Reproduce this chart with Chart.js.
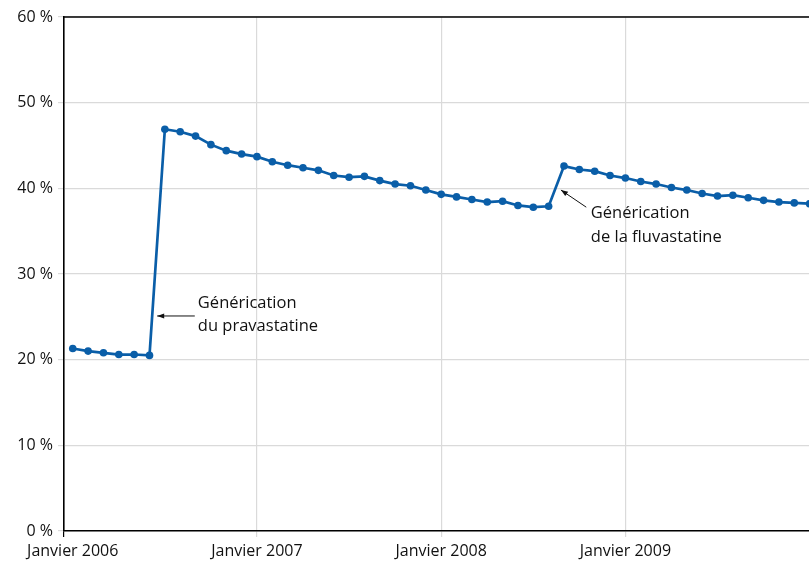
<!DOCTYPE html>
<html><head><meta charset="utf-8">
<script src="https://cdn.jsdelivr.net/npm/chart.js@4/dist/chart.umd.min.js"></script>
<style>html,body{margin:0;padding:0;background:#fff;overflow:hidden}</style>
</head><body><canvas id="c" width="809" height="565" style="display:block;width:809px;height:565px"></canvas>
<script>
// Month index (0 = Janvier 2006)
const monthIndex = [0,1,2,3,4,5,6,7,8,9,10,11,12,13,14,15,16,17,18,19,20,21,22,23,24,25,26,27,28,29,30,31,32,33,34,35,36,37,38,39,40,41,42,43,44,45,46,47,48];
// Share (%)
const shares = [21.3,21.0,20.8,20.6,20.6,20.5,46.9,46.6,46.1,45.1,44.4,44.0,43.7,43.1,42.7,42.4,42.1,41.5,41.3,41.4,40.9,40.5,40.3,39.8,39.3,39.0,38.7,38.4,38.5,38.0,37.8,37.9,42.6,42.2,42.0,41.5,41.2,40.8,40.5,40.1,39.8,39.4,39.1,39.2,38.9,38.6,38.4,38.3,38.2];
const tickPositions = [-0.57,0,12,24,36];
const tickLabels = ['','Janvier 2006','Janvier 2007','Janvier 2008','Janvier 2009'];
const yTicks = [0,10,20,30,40,50,60];
// Annotations: text lines + arrow (tail -> tip) in data coordinates
const annotations = [
  {lines:['Générication','du pravastatine'], textX:8.15, textY:[26.6,23.9], tail:[7.95,25.1], tip:[5.5,25.1]},
  {lines:['Générication','de la fluvastatine'], textX:33.75, textY:[37.1,34.3], tail:[33.45,37.8], tip:[31.8,39.8]}
];

const FONT = "'Open Sans', 'DejaVu Sans', sans-serif";
const BLUE = '#0a5ea8';

const annotPlugin = {
  id:'annot',
  afterDraw(chart){
    const {ctx, chartArea, scales:{x,y}} = chart;
    ctx.save();
    ctx.strokeStyle='#000'; ctx.lineWidth=1.5;
    ctx.beginPath(); ctx.moveTo(chartArea.left, chartArea.top); ctx.lineTo(chartArea.right, chartArea.top); ctx.stroke();
    ctx.fillStyle='#111'; ctx.font="16.5px "+FONT; ctx.textBaseline='middle'; ctx.textAlign='left';
    annotations.forEach(a=>{
      a.lines.forEach((t,i)=>ctx.fillText(t, x.getPixelForValue(a.textX), y.getPixelForValue(a.textY[i])));
      const x1=x.getPixelForValue(a.tail[0]), y1=y.getPixelForValue(a.tail[1]);
      const x2=x.getPixelForValue(a.tip[0]), y2=y.getPixelForValue(a.tip[1]);
      ctx.strokeStyle='#111'; ctx.lineWidth=1;
      ctx.beginPath(); ctx.moveTo(x1,y1); ctx.lineTo(x2,y2); ctx.stroke();
      const ang=Math.atan2(y2-y1,x2-x1), L=7, W=2.6;
      ctx.beginPath();
      ctx.moveTo(x2,y2);
      ctx.lineTo(x2-L*Math.cos(ang)+W*Math.sin(ang), y2-L*Math.sin(ang)-W*Math.cos(ang));
      ctx.lineTo(x2-L*Math.cos(ang)-W*Math.sin(ang), y2-L*Math.sin(ang)+W*Math.cos(ang));
      ctx.closePath(); ctx.fill();
    });
    ctx.restore();
  }
};

new Chart(document.getElementById('c'), {
  type:'line',
  data:{datasets:[{
    data: monthIndex.map((m,i)=>({x:m, y:shares[i]})),
    borderColor:BLUE, backgroundColor:BLUE, borderWidth:2.7,
    pointRadius:3.8, pointHoverRadius:3.8, pointBackgroundColor:BLUE, pointBorderWidth:0,
    tension:0, clip:false
  }]},
  options:{
    responsive:false, animation:false, devicePixelRatio:1,
    layout:{autoPadding:false, padding:{top:17,right:0,left:0,bottom:0}},
    plugins:{legend:{display:false}, tooltip:{enabled:false}},
    scales:{
      x:{type:'linear', min:-0.57, max:47.96,
        afterBuildTicks(s){ s.ticks = tickPositions.map(v=>({value:v})); },
        ticks:{autoSkip:false, maxRotation:0, minRotation:0, padding:5, color:'#111',
          font:{family:FONT, size:16},
          callback:(v,i)=>tickLabels[i]},
        grid:{tickLength:6, lineWidth:1.2,
          color:(c)=>{const v=c.tick&&c.tick.value; if(v===-0.57) return '#000'; if(v===0) return 'rgba(0,0,0,0)'; return '#dadada';}},
        border:{color:'#000', width:1.5},
        afterFit(s){ s.height=34; s.paddingLeft=0; s.paddingRight=0; }
      },
      y:{min:0, max:60,
        afterBuildTicks(s){ s.ticks = yTicks.map(v=>({value:v})); },
        ticks:{color:'#111', padding:5, font:{family:FONT, size:16}, callback:(v)=>v+' %'},
        grid:{tickLength:6, lineWidth:1.2, color:'#dadada'},
        border:{color:'#000', width:1.5},
        afterFit(s){ s.width=64; }
      }
    }
  },
  plugins:[annotPlugin]
});
</script></body></html>
